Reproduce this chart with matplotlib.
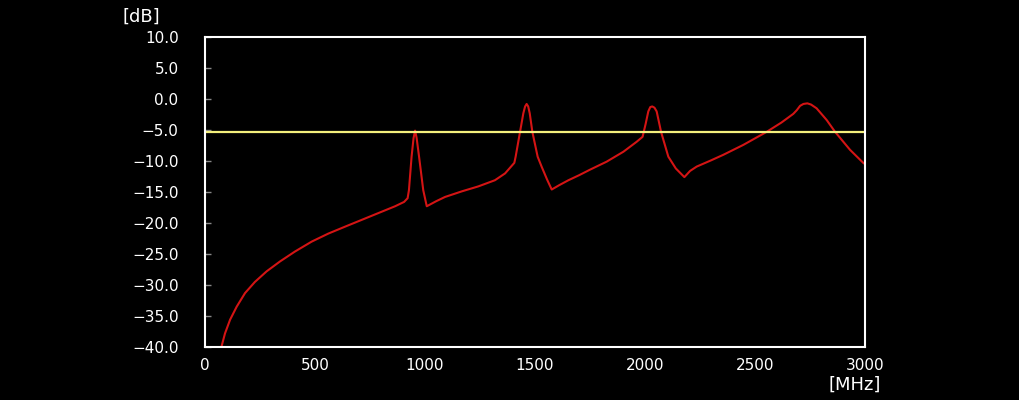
import matplotlib
matplotlib.use('Agg')
import matplotlib.pyplot as plt

plt.rcParams['font.family'] = ['DejaVu Sans']

# response curve (MHz, dB)
freq_mhz = [76, 91, 114, 144, 182, 227, 280, 341, 409, 485, 561, 636, 712, 788, 864,
            905, 921, 927, 939, 948, 955, 962, 973, 992, 1008, 1050, 1091, 1167, 1242,
            1318, 1364, 1406, 1412, 1432, 1447, 1455, 1462, 1469, 1476, 1488, 1512,
            1530, 1555, 1576, 1610, 1652, 1700, 1750, 1826, 1902, 1962, 1989, 2003,
            2015, 2024, 2033, 2043, 2053, 2073, 2106, 2140, 2179, 2205, 2235, 2300,
            2356, 2447, 2553, 2620, 2674, 2690, 2705, 2720, 2738, 2755, 2780, 2826,
            2864, 2932, 2992, 3000]
level_db = [-39.8, -37.8, -35.6, -33.5, -31.3, -29.5, -27.8, -26.2, -24.6, -23.0, -21.7,
            -20.6, -19.5, -18.4, -17.3, -16.6, -16.0, -14.7, -9.3, -6.3, -5.1, -6.3,
            -9.3, -14.7, -17.3, -16.5, -15.8, -14.9, -14.1, -13.1, -12.0, -10.3, -9.3,
            -5.3, -2.3, -1.2, -0.8, -1.2, -2.3, -5.3, -9.3, -10.9, -13.0, -14.6, -13.9,
            -13.1, -12.3, -11.4, -10.1, -8.5, -6.9, -6.1, -4.0, -2.0, -1.3, -1.2, -1.4,
            -2.0, -5.3, -9.3, -11.2, -12.6, -11.6, -10.9, -9.9, -9.0, -7.4, -5.3, -3.8,
            -2.4, -1.8, -1.1, -0.8, -0.7, -0.9, -1.5, -3.4, -5.3, -8.2, -10.3, -10.5]
threshold_db = -5.3

x_ticks = [0, 500, 1000, 1500, 2000, 2500, 3000]
y_ticks = [10, 5, 0, -5, -10, -15, -20, -25, -30, -35, -40]

fig = plt.figure(figsize=(10.2, 4.0), dpi=100, facecolor='black')
ax = fig.add_axes([205 / 1020, 53 / 400, 660 / 1020, 310 / 400], facecolor='black')

ax.plot(freq_mhz, level_db, color='#d41414', linewidth=1.5, solid_joinstyle='round')
ax.axhline(threshold_db, color='#f3ef7c', linewidth=1.6)

ax.set_xlim(0, 3000)
ax.set_ylim(-40, 10)
ax.set_xticks(x_ticks)
ax.set_yticks(y_ticks)
ax.set_xticklabels([str(v) for v in x_ticks])
ax.set_yticklabels([f'{v:.1f}'.replace('-', '\u2212') for v in y_ticks])

for s in ax.spines.values():
    s.set_color('white')
    s.set_linewidth(1.5)

ax.tick_params(axis='x', length=0, pad=8, colors='white', labelsize=11)
ax.tick_params(axis='y', direction='in', length=4, width=1, color='#888888',
               pad=19, labelcolor='white', labelsize=11)

fig.text(141 / 1020, 1 - 17 / 400, '[dB]', color='white', fontsize=13,
         ha='center', va='center')
fig.text(855 / 1020, 1 - 385 / 400, '[MHz]', color='white', fontsize=13,
         ha='center', va='center')

fig.savefig('out.png', dpi=100, facecolor='black')
